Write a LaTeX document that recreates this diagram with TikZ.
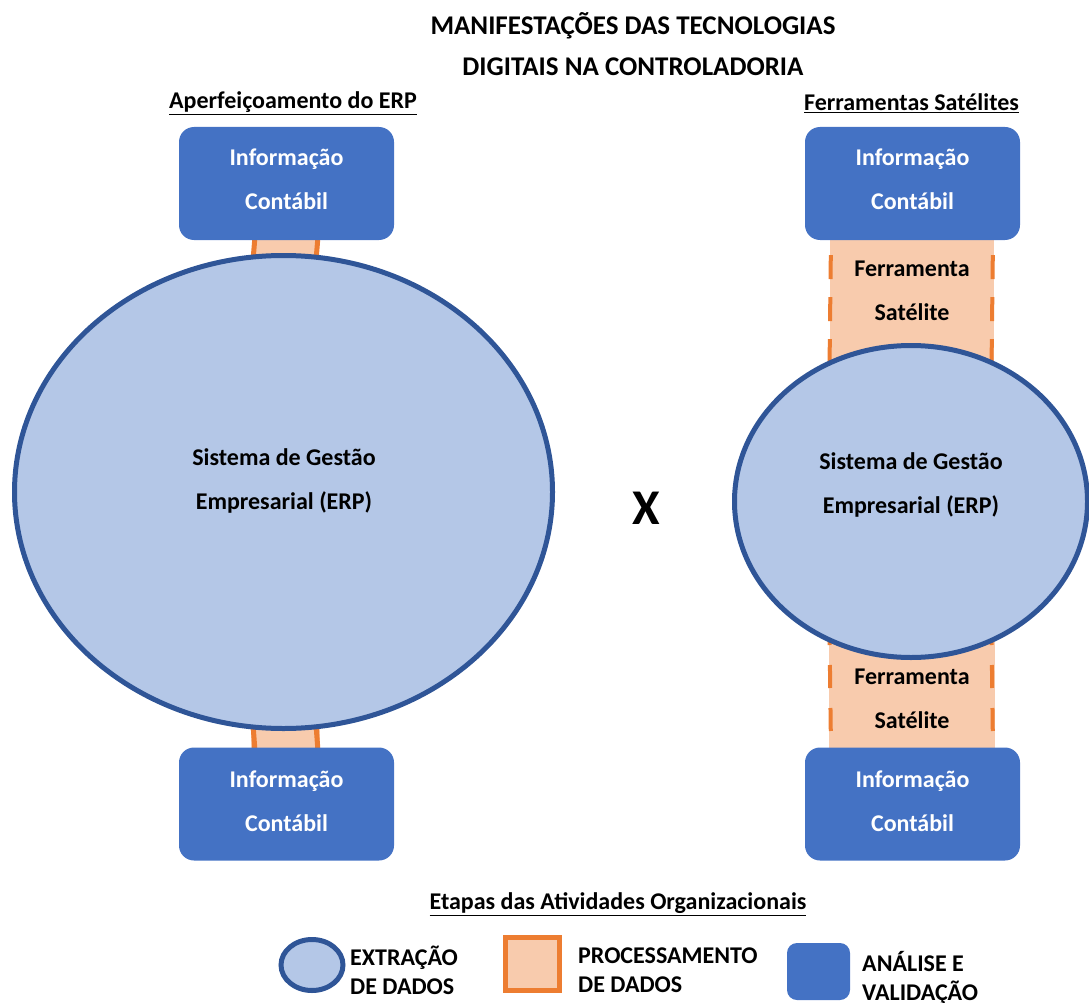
\documentclass[tikz,border=0pt]{standalone}
\usepackage{fontspec}
\setmainfont{Carlito}
\usetikzlibrary{shapes.geometric,calc,backgrounds}
\definecolor{boxblue}{HTML}{4472C4}
\definecolor{ellfill}{HTML}{B4C7E7}
\definecolor{elldraw}{HTML}{2F5597}
\definecolor{procfill}{HTML}{F8CBAD}
\definecolor{procdraw}{HTML}{ED7D31}
\begin{document}
\begin{tikzpicture}[x=1pt,y=-1pt,
  txt/.style={font=\fontsize{24}{44}\selectfont\bfseries, align=center, inner sep=0pt},
  infobox/.style={txt, fill=boxblue, text=white, rounded corners=15pt,
    minimum width=215pt, minimum height=113pt},
  erp/.style={ellipse, fill=ellfill, draw=elldraw, line width=5pt, inner sep=0pt},
  bandfill/.style={fill=procfill},
  solidside/.style={draw=procdraw, line width=5pt},
  dashside/.style={draw=procdraw, line width=4pt},
  legtxt/.style={font=\fontsize{24}{29}\selectfont\bfseries, align=left, inner sep=0pt, anchor=west},
]
\useasboundingbox (0,0) rectangle (1089,1003);

% title and headings
\node[txt, font=\fontsize{27}{41}\selectfont\bfseries] (title) at (633,44)
  {MANIFESTAÇÕES DAS TECNOLOGIAS\\DIGITAIS NA CONTROLADORIA};
\node[txt] (headL) at (293,103.5) {\underline{Aperfeiçoamento do ERP}};
\node[txt] (headR) at (911.5,103.5) {\underline{Ferramentas Satélites}};

% left: ERP improvement
\node[infobox] (infoTL) at (286.5,183.5) {};
\node[txt, text=white] (infoTLtxt) at (286.5,179.5) {Informação\\Contábil};
\node[erp, minimum width=538pt, minimum height=473pt] (erpL) at (283.5,492) {};
\node[txt] (erpLtxt) at (284,481) {Sistema de Gestão\\Empresarial (ERP)};
\node[infobox] (infoBL) at (286.5,804) {};
\node[txt, text=white] (infoBLtxt) at (286.5,801) {Informação\\Contábil};

% separator
\node[font=\fontsize{50}{50}\selectfont\bfseries, inner sep=0pt] (vs) at (646,508) {X};

% right: satellite tools
\node[infobox] (infoTR) at (912.5,183.5) {};
\node[txt, text=white] (infoTRtxt) at (912.5,179.5) {Informação\\Contábil};
\node[erp, minimum width=353pt, minimum height=312pt] (erpR) at (911,501.5) {};
\node[txt] (erpRtxt) at (911,485) {Sistema de Gestão\\Empresarial (ERP)};
\node[infobox] (infoBR) at (912.5,804) {};
\node[txt, text=white] (infoBRtxt) at (912.5,801) {Informação\\Contábil};
\node[txt] (ferrT) at (912,291) {Ferramenta\\Satélite};
\node[txt] (ferrB) at (912,699) {Ferramenta\\Satélite};

% processing bands between the boxes and the ERP ellipses
\begin{scope}[on background layer]
  % left, solid sides
  \path[bandfill] ($(infoTL.south)+(-33,-4)$) rectangle ($(erpL.north)+(33,20)$);
  \draw[solidside] ($(infoTL.south)+(-31.5,-4)$) -- ($(erpL.north)+(-31.5,20)$);
  \draw[solidside] ($(infoTL.south)+(31.5,-4)$) -- ($(erpL.north)+(31.5,20)$);
  \path[bandfill] ($(erpL.south)+(-33,-20)$) rectangle ($(infoBL.north)+(33,4)$);
  \draw[solidside] ($(erpL.south)+(-31.5,-20)$) -- ($(infoBL.north)+(-31.5,4)$);
  \draw[solidside] ($(erpL.south)+(31.5,-20)$) -- ($(infoBL.north)+(31.5,4)$);
  % right, dashed sides
  \path[bandfill] ($(infoTR.south)+(-82.5,-4)$) rectangle ($(erpR.north)+(82.5,25)$);
  \draw[dashside, dash pattern=on 24pt off 18pt, dash phase=25pt]
    ($(infoTR.south)+(-81.5,-2)$) -- ($(erpR.north)+(-81.5,25)$);
  \draw[dashside, dash pattern=on 24pt off 18pt, dash phase=25pt]
    ($(infoTR.south)+(80.5,-2)$) -- ($(erpR.north)+(80.5,25)$);
  \path[bandfill] ($(erpR.south)+(-82.5,-25)$) rectangle ($(infoBR.north)+(82.5,4)$);
  \draw[dashside, dash pattern=on 23pt off 20pt, dash phase=11pt]
    ($(erpR.south)+(-81.5,-27)$) -- ($(infoBR.north)+(-81.5,2)$);
  \draw[dashside, dash pattern=on 23pt off 20pt, dash phase=11pt]
    ($(erpR.south)+(80.5,-27)$) -- ($(infoBR.north)+(80.5,2)$);
\end{scope}

% legend
\node[txt] (legHead) at (618,904) {\underline{Etapas das Atividades Organizacionais}};
\node[erp, minimum width=62pt, minimum height=51pt] (legExt) at (312,965) {};
\node[legtxt] (legExtTxt) at (350,970.5) {EXTRAÇÃO\\DE DADOS};
\node[fill=procfill, draw=procdraw, line width=5pt, minimum width=54pt, minimum height=53pt, inner sep=0pt]
  (legProc) at (532.5,964) {};
\node[legtxt] (legProcTxt) at (578,970.5) {PROCESSAMENTO\\DE DADOS};
\node[fill=boxblue, rounded corners=10pt, minimum width=63pt, minimum height=57pt, inner sep=0pt]
  (legVal) at (818.5,971.5) {};
\node[legtxt] (legValTxt) at (862,978) {ANÁLISE E\\VALIDAÇÃO};
\end{tikzpicture}
\end{document}
